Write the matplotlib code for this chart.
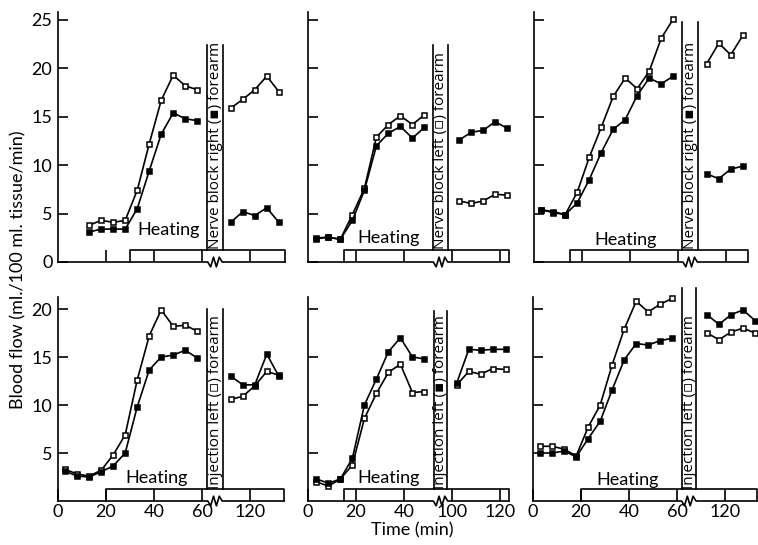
"""
Forearm blood flow during body heating, before and after nerve block /
injection of one forearm. Six panels with a broken time axis.
Saves out.png.
"""

import matplotlib
matplotlib.use("Agg")
import matplotlib.pyplot as plt

plt.rcParams["font.family"] = ["Lato", "DejaVu Sans"]

# ---------------------------------------------------------------------------
# data (min, ml/100 ml tissue/min)
TL_PRE_T = [13, 18, 23, 28, 33, 38, 43, 48, 53, 58]
TL_PRE_OPEN = [3.8, 4.3, 4.1, 4.3, 7.4, 12.2, 16.7, 19.3, 18.2, 17.8]
TL_PRE_FILLED = [3.1, 3.4, 3.4, 3.4, 5.5, 9.4, 13.2, 15.4, 14.8, 14.6]
TL_POST_T = [112, 117, 122, 127, 132]
TL_POST_OPEN = [15.9, 16.8, 17.8, 19.2, 17.6]
TL_POST_FILLED = [4.1, 5.2, 4.8, 5.6, 4.1]

TM_PRE_T = [3.5, 8.5, 13.5, 18.5, 23.5, 28.5, 33.5, 38.5, 43.5, 48.5]
TM_PRE_OPEN = [2.5, 2.55, 2.35, 4.9, 7.6, 12.9, 14.2, 15.1, 14.2, 15.2]
TM_PRE_FILLED = [2.4, 2.55, 2.35, 4.3, 7.4, 12.0, 13.3, 14.0, 12.8, 13.9]
TM_POST_T = [103, 108, 113, 118, 123]
TM_POST_OPEN = [6.3, 6.05, 6.3, 7.0, 6.9]
TM_POST_FILLED = [12.6, 13.4, 13.6, 14.5, 13.8]

TR_PRE_T = [3, 8, 13, 18, 23, 28, 33, 38, 43, 48, 53, 58]
TR_PRE_OPEN = [5.4, 5.1, 4.9, 7.2, 10.8, 13.9, 17.1, 19.0, 17.9, 19.7, 23.1, 25.1]
TR_PRE_FILLED = [5.4, 5.2, 4.9, 6.1, 8.5, 11.3, 13.7, 14.7, 17.2, 19.0, 18.4, 19.2]
TR_POST_T = [112, 117, 122, 127]
TR_POST_OPEN = [20.5, 22.6, 21.4, 23.4]
TR_POST_FILLED = [9.1, 8.6, 9.6, 9.9]

BL_PRE_T = [3, 8, 13, 18, 23, 28, 33, 38, 43, 48, 53, 58]
BL_PRE_OPEN = [3.3, 2.8, 2.6, 3.2, 4.8, 6.9, 12.6, 17.2, 19.9, 18.2, 18.3, 17.7]
BL_PRE_FILLED = [3.1, 2.6, 2.5, 3.05, 3.65, 5.0, 9.8, 13.65, 15.0, 15.2, 15.7, 14.9]
BL_POST_T = [112, 117, 122, 127, 132]
BL_POST_OPEN = [10.6, 10.9, 12.0, 13.5, 13.1]
BL_POST_FILLED = [13.0, 12.1, 12.1, 15.3, 13.0]

BM_PRE_T = [3.5, 8.5, 13.5, 18.5, 23.5, 28.5, 33.5, 38.5, 43.5, 48.5]
BM_PRE_OPEN = [2.0, 1.55, 2.3, 3.75, 8.6, 11.2, 13.4, 14.25, 11.3, 11.4]
BM_PRE_FILLED = [2.3, 1.85, 2.3, 4.45, 10.0, 12.7, 15.55, 17.0, 15.0, 14.8]
BM_POST_T = [102, 107, 112, 117, 122.5]
BM_POST_OPEN = [12.1, 13.5, 13.2, 13.8, 13.7]
BM_POST_FILLED = [12.3, 15.8, 15.7, 15.8, 15.8]

BR_PRE_T = [3, 8, 13, 18, 23, 28, 33, 38, 43, 48, 53, 58]
BR_PRE_OPEN = [5.7, 5.7, 5.4, 4.7, 7.7, 10.0, 14.2, 17.9, 20.8, 19.7, 20.5, 21.1]
BR_PRE_FILLED = [5.0, 5.0, 5.2, 4.6, 6.5, 8.3, 11.6, 14.7, 16.4, 16.25, 16.7, 16.95]
BR_POST_T = [112.5, 117.5, 122.5, 127.5, 132.5]
BR_POST_OPEN = [17.5, 16.8, 17.6, 18.0, 17.5]
BR_POST_FILLED = [19.4, 18.4, 19.4, 19.9, 18.8]

HEATING_START = [30, 15, 15, 20, 15, 20]
BOX_TEXT = [
    "Nerve block right (\u25aa) forearm",
    "Nerve block left (\u25ab) forearm",
    "Nerve block right (\u25aa) forearm",
    "Injection left (\u25ab) forearm",
    "Injection left (\u25aa) forearm",
    "Injection left (\u25ab) forearm",
]
X_TICKS = [
    [20, 40, 60, 120], [20, 40, 100, 120], [20, 40, 60, 120],
    [0, 20, 40, 60, 120], [0, 20, 40, 100, 120], [0, 20, 40, 60, 120],
]

# ---------------------------------------------------------------------------
W, H = 758, 545
PX_PER_MIN = 2.4
SHIFT = 40      # minutes cut out of the time axis after the break
BAR_H = 1.2     # height of the heating bar, in flow units

# left px, x-axis px, x end (axis units), y max, px per flow unit
PANELS = [
    (58, 262, 94.6, 25.8, 9.68),
    (308, 262, 83.75, 25.8, 9.68),
    (534, 262, 89.0, 25.8, 9.68),
    (58, 501, 94.2, 21.3, 9.6),
    (308, 501, 83.75, 21.3, 9.6),
    (533, 501, 93.2, 21.3, 9.6),
]
# box left, box right, box top (axis units); heating text x, y
BOXES = [
    (62.1, 68.7, 22.4, 33.0, 2.8),
    (52.2, 58.2, 22.4, 20.4, 2.0),
    (61.8, 68.3, 24.8, 25.3, 1.75),
    (62.2, 68.6, 20.0, 27.9, 1.9),
    (52.3, 58.1, 19.8, 20.4, 1.85),
    (61.9, 67.9, 22.2, 26.5, 1.7),
]

SERIES = [
    (TL_PRE_T, TL_PRE_OPEN, TL_PRE_FILLED, TL_POST_T, TL_POST_OPEN, TL_POST_FILLED),
    (TM_PRE_T, TM_PRE_OPEN, TM_PRE_FILLED, TM_POST_T, TM_POST_OPEN, TM_POST_FILLED),
    (TR_PRE_T, TR_PRE_OPEN, TR_PRE_FILLED, TR_POST_T, TR_POST_OPEN, TR_POST_FILLED),
    (BL_PRE_T, BL_PRE_OPEN, BL_PRE_FILLED, BL_POST_T, BL_POST_OPEN, BL_POST_FILLED),
    (BM_PRE_T, BM_PRE_OPEN, BM_PRE_FILLED, BM_POST_T, BM_POST_OPEN, BM_POST_FILLED),
    (BR_PRE_T, BR_PRE_OPEN, BR_PRE_FILLED, BR_POST_T, BR_POST_OPEN, BR_POST_FILLED),
]

LW = 1.2
FS = 13


def squeeze(times):
    # broken axis: everything after the break is moved left by SHIFT minutes
    return [t - SHIFT if t >= 80 else t for t in times]


def draw_series(ax, t, y, filled):
    kw = dict(color="black", lw=LW, marker="s", ms=3.6, mew=1.1, mec="black",
              mfc="black" if filled else "white", clip_on=False, zorder=3)
    ax.plot(squeeze(t), y, **kw)


fig = plt.figure(figsize=(W / 100, H / 100), dpi=100)

for i, (left, base, xend, ymax, ppu) in enumerate(PANELS):
    ax = fig.add_axes([left / W, 1 - base / H,
                       xend * PX_PER_MIN / W, ymax * ppu / H])
    ax.set_xlim(0, xend)
    ax.set_ylim(0, ymax)
    for s in ("top", "right", "bottom"):
        ax.spines[s].set_visible(False)
    ax.spines["left"].set_linewidth(LW)

    pre_t, pre_o, pre_f, post_t, post_o, post_f = SERIES[i]
    draw_series(ax, pre_t, pre_o, False)
    draw_series(ax, pre_t, pre_f, True)
    draw_series(ax, post_t, post_o, False)
    draw_series(ax, post_t, post_f, True)

    bl, br, btop, hx, hy = BOXES[i]
    c = (bl + br) / 2

    # x axis line with the zigzag break
    zx = [0, c - 3, c - 1.8, c - 0.6, c + 0.6, c + 1.8, c + 3, xend]
    zy = [0, 0, -0.5, 0.5, -0.5, 0.5, 0, 0]
    ax.plot(zx, zy, color="black", lw=LW, clip_on=False, zorder=2)

    # heating bar
    hs = HEATING_START[i]
    ax.plot([hs, hs, xend, xend], [0, BAR_H, BAR_H, 0], color="black",
            lw=LW, clip_on=False, zorder=2)
    ax.text(hx, hy, "Heating", fontsize=FS, ha="left", va="baseline")

    # box with the procedure text
    ax.plot([bl, bl], [BAR_H, btop], color="black", lw=LW, clip_on=False)
    ax.plot([br, br], [BAR_H, btop], color="black", lw=LW, clip_on=False)
    ax.text(c + 0.2, BAR_H + 0.1, BOX_TEXT[i], rotation=90, fontsize=11,
            family=["Open Sans", "DejaVu Sans"], ha="center", va="bottom")

    ticks = X_TICKS[i]
    ax.set_xticks(squeeze(ticks))
    ax.set_xticklabels([str(t) for t in ticks])
    ax.tick_params(axis="x", direction="in", length=8.5, width=LW,
                   labelsize=FS, pad=2, labelbottom=i >= 3)

    if i < 3:
        ax.set_yticks([0, 5, 10, 15, 20, 25])
    else:
        ax.set_yticks([5, 10, 15, 20])
    ax.tick_params(axis="y", direction="in", length=7, width=LW,
                   labelsize=FS, pad=4, labelleft=i % 3 == 0)

fig.text(18 / W, 1 - 270 / H, "Blood flow (ml./100 ml. tissue/min)",
         rotation=90, fontsize=FS, ha="center", va="center")
fig.text(412 / W, 1 - 530 / H, "Time (min)", fontsize=FS,
         ha="center", va="center")

fig.savefig("out.png", dpi=100)
plt.close(fig)
